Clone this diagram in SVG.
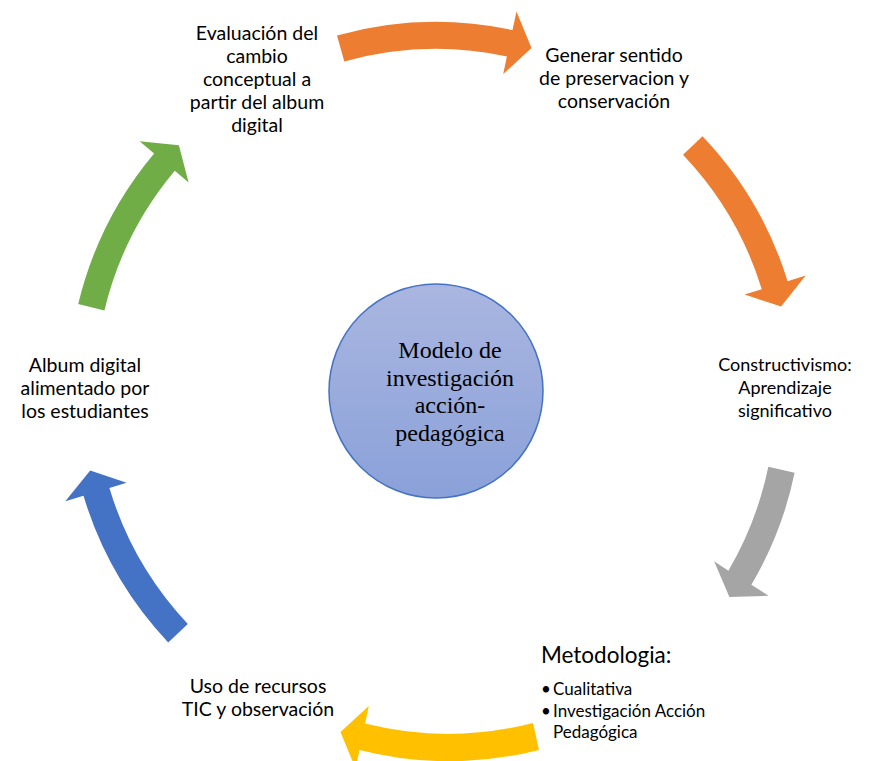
<svg xmlns="http://www.w3.org/2000/svg" width="870" height="761" viewBox="0 0 870 761">
<defs>
<linearGradient id="cg" x1="0" y1="0" x2="0" y2="1">
<stop offset="0" stop-color="#aab6e0"/>
<stop offset="1" stop-color="#8aa1d9"/>
</linearGradient>
<style>
.t{font-family:Lato,"Liberation Sans",sans-serif;font-size:19.5px;fill:#000;text-anchor:middle}
.b{font-family:Lato,"Liberation Sans",sans-serif;font-size:17px;fill:#000}
.c{font-family:"Liberation Serif","Times New Roman",serif;font-size:24px;fill:#000;text-anchor:middle}
</style>
</defs>
<rect width="870" height="761" fill="#fff"/>
<g id="connectors">
<path id="a1" fill="#ed7d31" d="M337.0,35.5 A368,368 0 0 1 512.5,30.1 L516.5,11.5 L531.5,48.1 L503.2,74.1 L506.9,56.5 A341,341 0 0 0 344.3,61.5 Z"/>
<path id="a2" fill="#ed7d31" d="M702.5,136.2 A368,368 0 0 1 787.6,281.2 L805.7,275.6 L781.1,306.5 L744.6,294.5 L761.8,289.2 A341,341 0 0 0 683.0,154.8 Z"/>
<path id="a3" fill="#a5a5a5" d="M794.6,472.8 A368,368 0 0 1 751.4,584.8 L768.6,595.8 L729.4,597.1 L714.1,561.3 L728.4,570.7 A341,341 0 0 0 768.3,466.7 Z"/>
<path id="a4" fill="#ffc000" d="M539,750 A368,368 0 0 1 359.5,749.9 L355.5,768.5 L340.5,731.9 L368.8,705.9 L365.1,723.5 A341,341 0 0 0 533,723 Z"/>
<path id="a5" fill="#4472c4" d="M168.2,642.4 A368,368 0 0 1 83.5,495.8 L65.3,501.2 L90.2,470.5 L126.6,482.8 L109.4,488.0 A341,341 0 0 0 187.8,623.9 Z"/>
<path id="a6" fill="#70ad47" d="M78.2,304.1 A368,368 0 0 1 154.1,153.5 L139.6,141.2 L178.9,145.2 L188.6,182.4 L174.8,170.8 A341,341 0 0 0 104.4,310.4 Z"/>
</g>
<g id="center">
<circle cx="436" cy="391" r="107" fill="url(#cg)" stroke="#4472c4" stroke-width="1.5"/>
<text class="c" x="450" y="358">Modelo de</text>
<text class="c" x="450" y="386">investigación</text>
<text class="c" x="450" y="413">acción-</text>
<text class="c" x="450" y="441">pedagógica</text>
</g>
<g id="n1">
<text class="t" x="257" y="40">Evaluación del</text>
<text class="t" x="257" y="63">cambio</text>
<text class="t" x="257" y="86">conceptual a</text>
<text class="t" x="257" y="109">partir del album</text>
<text class="t" x="257" y="132">digital</text>
</g>
<g id="n2">
<text class="t" x="614" y="62">Generar sentido</text>
<text class="t" x="614" y="85">de preservacion y</text>
<text class="t" x="614" y="108">conservación</text>
</g>
<g id="n3">
<text class="t" x="785" y="371" style="font-size:18px">Constructivismo:</text>
<text class="t" x="785" y="394" style="font-size:18px">Aprendizaje</text>
<text class="t" x="785" y="417" style="font-size:18px">significativo</text>
</g>
<g id="n4">
<text class="b" x="541" y="663" style="font-size:22.5px">Metodologia:</text>
<text class="b" x="541" y="695">•</text>
<text class="b" x="553" y="695">Cualitativa</text>
<text class="b" x="541" y="717">•</text>
<text class="b" x="553" y="717">Investigación Acción</text>
<text class="b" x="553" y="738">Pedagógica</text>
</g>
<g id="n5">
<text class="t" x="258" y="693">Uso de recursos</text>
<text class="t" x="258" y="716">TIC y observación</text>
</g>
<g id="n6">
<text class="t" x="85" y="372">Album digital</text>
<text class="t" x="85" y="395">alimentado por</text>
<text class="t" x="85" y="418">los estudiantes</text>
</g>
</svg>
